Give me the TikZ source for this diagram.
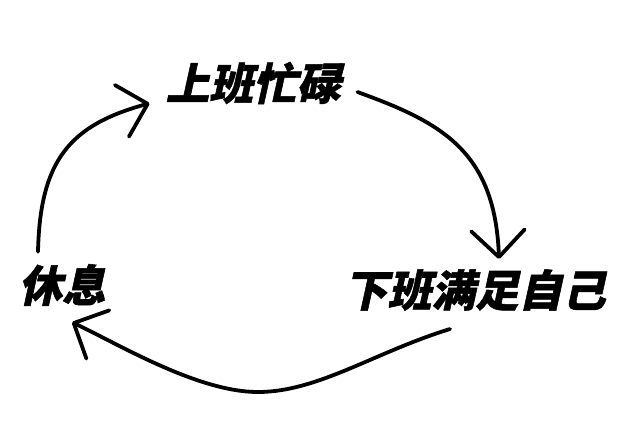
\documentclass[tikz,border=0pt]{standalone}
\usepackage{fontspec}
\newfontfamily\cjk[FakeSlant=0.22, BoldFeatures={FakeBold=1.2}]{Noto Sans CJK SC}
\usetikzlibrary{positioning, arrows.meta}
\tikzset{
    stage/.style={inner sep=0pt, font=\cjk\bfseries\fontsize{31}{36}\selectfont},
    flow/.style={line width=2.7pt, line cap=round, -{Straight Barb[length=19pt, width=38pt, round]}}
}

\begin{document}
\begin{tikzpicture}[x=0.025cm, y=-0.025cm]
\useasboundingbox (0,0) rectangle (640,436);

% Nodes
\node[stage] (work) at (253,83) {上班忙碌};
\node[stage] (off) at (475,290) {下班满足自己};
\node[stage] (rest) at (62,285) {休息};

% Arrows (hand drawn cycle)
\draw[flow] ([shift={(-24,-12)}]rest.north) .. controls (40,160) and (70,125) .. ([shift={(-16,-1)}]work.south west);
\draw[flow] ([shift={(17,9)}]work.east) .. controls (440,122) and (495,150) .. ([shift={(24,-10)}]off.north);
\draw[flow] ([shift={(-25,18)}]off.south) .. controls (375,352) and (318,392) .. (258,392)
    .. controls (198,392) and (120,345) .. ([shift={(10,16)}]rest.south);

\end{tikzpicture}
\end{document}
